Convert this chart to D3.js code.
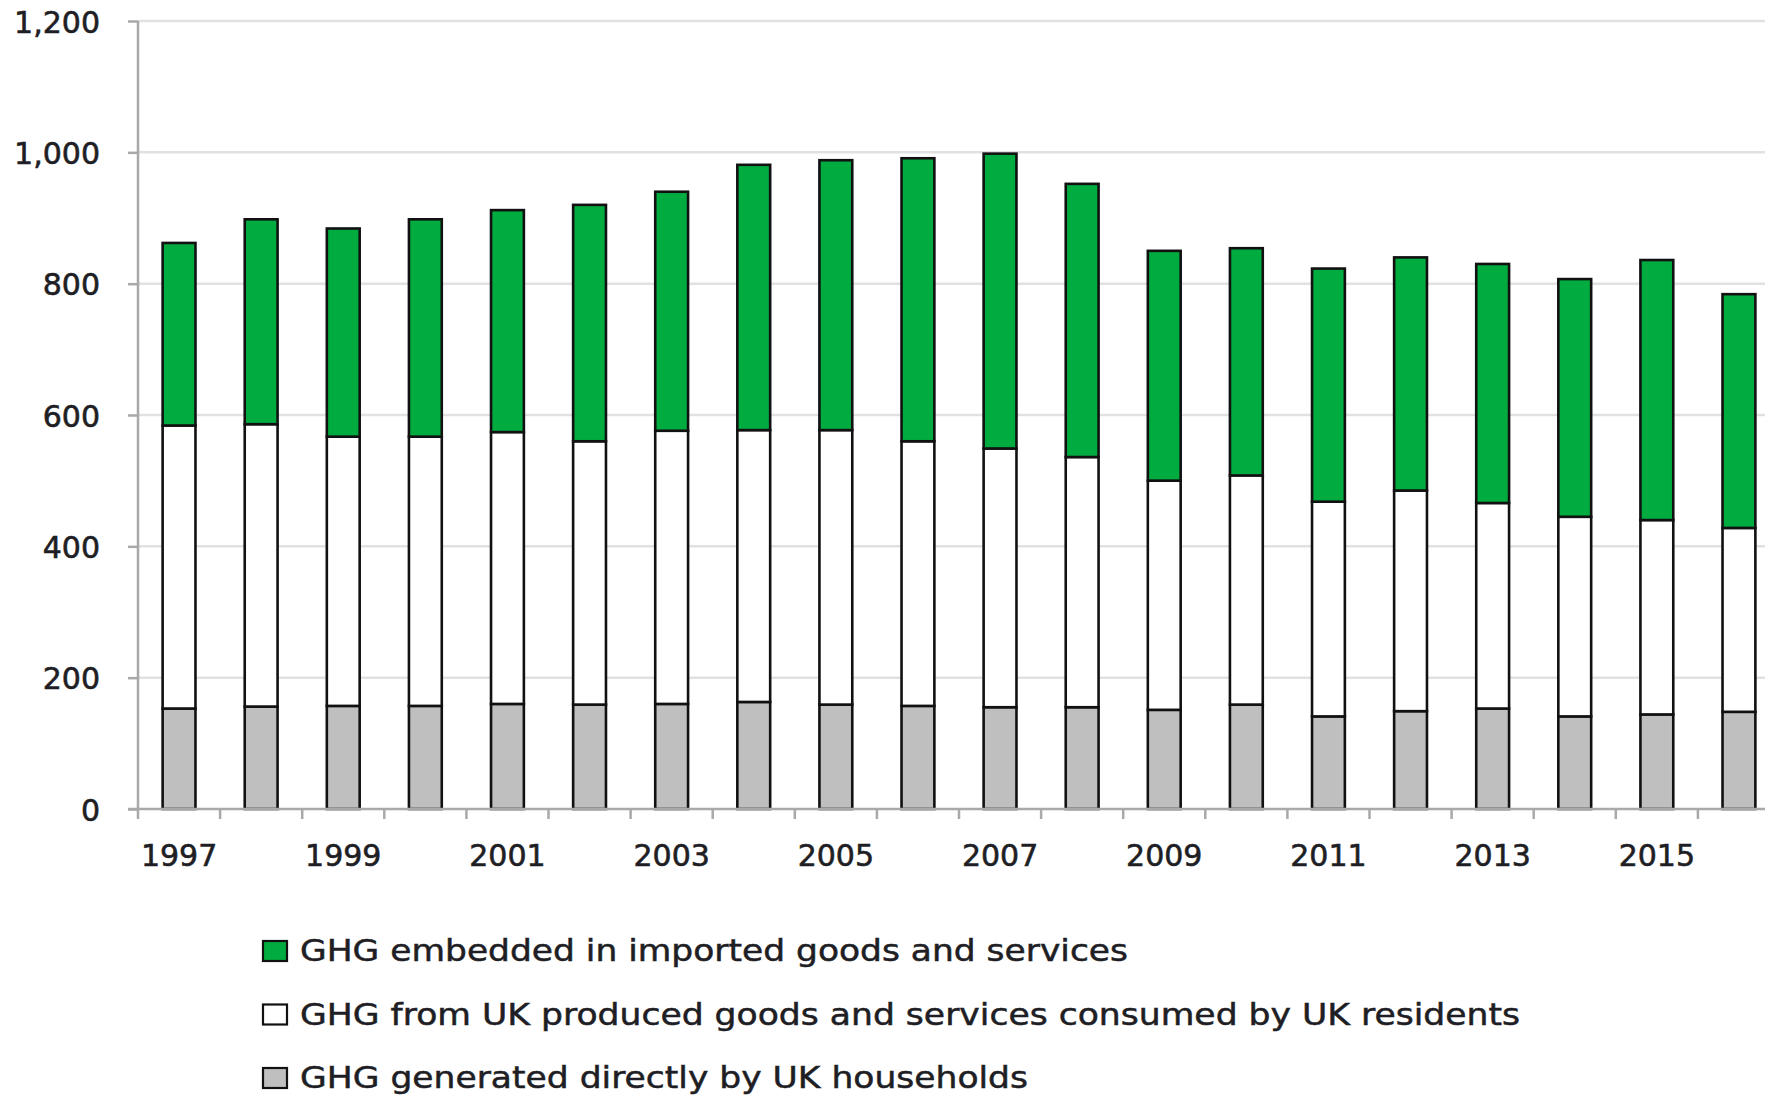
<!DOCTYPE html>
<html>
<head>
<meta charset="utf-8">
<script src="https://cdn.jsdelivr.net/npm/d3@7"></script>
<style>
  html, body { margin: 0; padding: 0; background: #fff; overflow: hidden; }
  svg { display: block; }
</style>
</head>
<body>
<svg id="chart" width="1765" height="1096"></svg>
<script>
// ---- data ----
const years = [1997,1998,1999,2000,2001,2002,2003,2004,2005,2006,2007,2008,2009,2010,2011,2012,2013,2014,2015,2016];
const household = [153,156,157,157,160,159,160,163,159,157,155,155,151,159,141,149,153,141,144,148];
const produced  = [431,430,410,410,414,401,416,414,418,403,394,381,349,349,327,336,313,304,296,280];
const imported  = [278,312,317,331,338,360,364,404,411,431,449,416,350,346,355,355,364,362,396,356];
const yTicks = [0,200,400,600,800,1000,1200];
const xLabelYears = [1997,1999,2001,2003,2005,2007,2009,2011,2013,2015];
const seriesKeys = ["household","produced","imported"];
const seriesColors = {household:"#bfbfbf", produced:"#ffffff", imported:"#00ab3f"};
const legendLabels = [
  {key:"imported", text:"GHG embedded in imported goods and services"},
  {key:"produced", text:"GHG from UK produced goods and services consumed by UK residents"},
  {key:"household", text:"GHG generated directly by UK households"}
];

const rows = years.map((yr,i) => ({year:yr, household:household[i], produced:produced[i], imported:imported[i]}));

const svg = d3.select("#chart");
const axisX0 = 138, yTop = 21, yBottom = 809;
const x = d3.scaleBand().domain(years).range([axisX0, axisX0 + 20*82.1]).paddingInner(0.6).paddingOuter(0.3);
const y = d3.scaleLinear().domain([0,1200]).range([yBottom, yTop]);

const textColor = "#1e1e24";
const axisColor = "#a9a9a9";

// gridlines
svg.append("g").selectAll("line").data(yTicks.filter(d => d > 0)).join("line")
  .attr("x1", axisX0).attr("x2", 1765)
  .attr("y1", d => y(d)).attr("y2", d => y(d))
  .attr("stroke", "#e1e1e1").attr("stroke-width", 2.5);

// y axis
const yAxis = svg.append("g").attr("transform", `translate(${axisX0},0)`)
  .call(d3.axisLeft(y).tickValues(yTicks).tickSize(10).tickPadding(28).tickFormat(d3.format(",")));
yAxis.select(".domain").remove();
yAxis.selectAll(".tick line").attr("stroke", axisColor).attr("stroke-width", 2.5);
yAxis.selectAll(".tick text")
  .attr("font-family", "DejaVu Sans").attr("font-size", 30).attr("fill", textColor)
  .attr("stroke", textColor).attr("stroke-width", 0.6)
  .attr("dy", null).attr("y", 11);

// bars
const stack = d3.stack().keys(seriesKeys)(rows);
svg.append("g").selectAll("g").data(stack).join("g")
  .attr("fill", d => seriesColors[d.key])
  .selectAll("rect").data(d => d).join("rect")
  .attr("x", d => x(d.data.year))
  .attr("width", x.bandwidth())
  .attr("y", d => y(d[1]))
  .attr("height", d => y(d[0]) - y(d[1]))
  .attr("stroke", "#111").attr("stroke-width", 2.6);

// axis lines
svg.append("line").attr("x1", axisX0).attr("x2", axisX0).attr("y1", yTop).attr("y2", yBottom + 10)
  .attr("stroke", axisColor).attr("stroke-width", 2.5);
svg.append("line").attr("x1", axisX0 - 10).attr("x2", 1765).attr("y1", yBottom).attr("y2", yBottom)
  .attr("stroke", axisColor).attr("stroke-width", 2.5);

// x boundary ticks
const gap = (x.step() - x.bandwidth())/2;
const boundaries = years.map(yr => x(yr) - gap).slice(1);
svg.append("g").selectAll("line").data(boundaries).join("line")
  .attr("x1", d => d).attr("x2", d => d).attr("y1", yBottom).attr("y2", yBottom + 10)
  .attr("stroke", axisColor).attr("stroke-width", 2.5);

// x labels
const xAxis = svg.append("g").attr("transform", `translate(0,${yBottom})`)
  .call(d3.axisBottom(x).tickValues(xLabelYears).tickSize(0).tickPadding(0));
xAxis.select(".domain").remove();
xAxis.selectAll(".tick text")
  .attr("font-family", "DejaVu Sans").attr("font-size", 30).attr("fill", textColor)
  .attr("stroke", textColor).attr("stroke-width", 0.6)
  .attr("dy", null).attr("y", 57);

// legend
const legendWidths = [828, 1220, 728];
const lg = svg.append("g");
legendLabels.forEach((l, i) => {
  const base = 961 + i*63.5;
  lg.append("rect").attr("x", 263).attr("y", base - 20).attr("width", 24).attr("height", 20)
    .attr("fill", seriesColors[l.key]).attr("stroke", "#111").attr("stroke-width", 2.2);
  lg.append("text").attr("x", 300).attr("y", base)
    .attr("font-family", "DejaVu Sans").attr("font-size", 29.5).attr("fill", textColor)
    .attr("stroke", textColor).attr("stroke-width", 0.5)
    .attr("textLength", legendWidths[i]).attr("lengthAdjust", "spacingAndGlyphs")
    .text(l.text);
});
</script>
</body>
</html>
